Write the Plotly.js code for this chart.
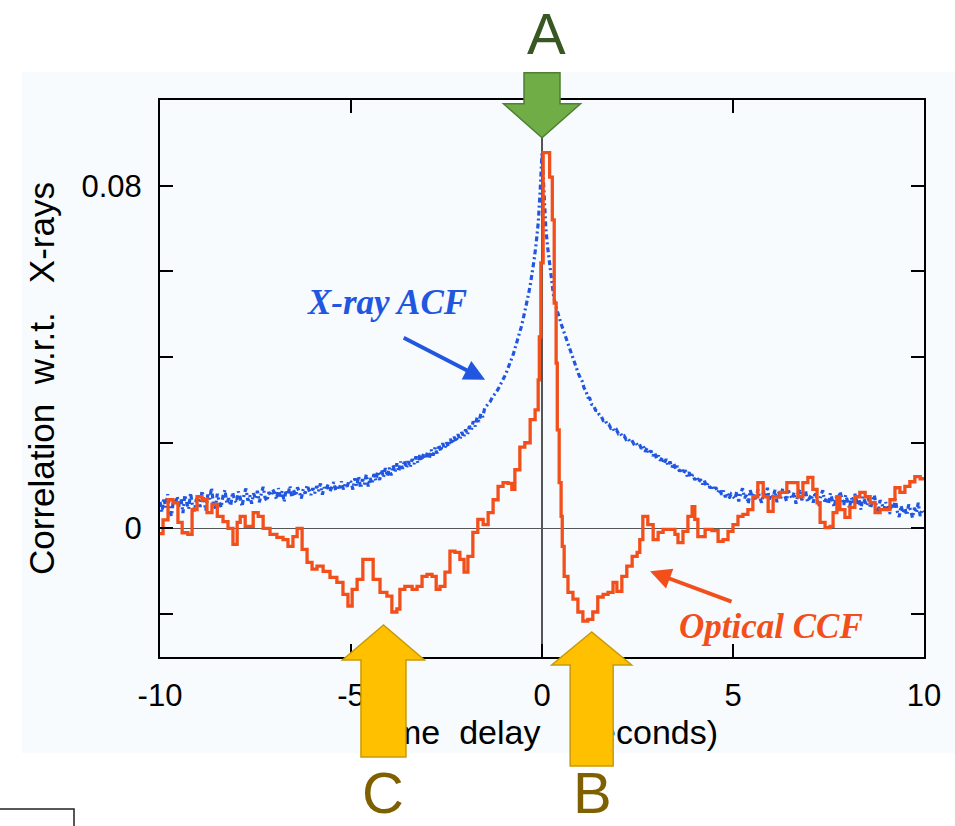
<!DOCTYPE html>
<html>
<head>
<meta charset="utf-8">
<script src="https://cdn.plot.ly/plotly-3.0.1.min.js"></script>
<style>
  html, body { margin: 0; padding: 0; background: #ffffff; }
  #wrap { position: relative; width: 955px; height: 826px; }
  #chart, #marks { position: absolute; left: 0; top: 0; width: 955px; height: 826px; }
  #marks { pointer-events: none; }
</style>
</head>
<body>
<div id="wrap">
  <div id="chart"></div>
  <div id="marks"></div>
</div>
<script>
// X-ray auto-correlation (dotted, blue), lag in seconds
const acfLag = [
  -10.00,-9.95,-9.90,-9.85,-9.80,-9.75,-9.70,-9.65,-9.60,-9.55,
  -9.50,-9.45,-9.40,-9.35,-9.30,-9.25,-9.20,-9.15,-9.10,-9.05,
  -9.00,-8.95,-8.90,-8.85,-8.80,-8.75,-8.70,-8.65,-8.60,-8.55,
  -8.50,-8.45,-8.40,-8.35,-8.30,-8.25,-8.20,-8.15,-8.10,-8.05,
  -8.00,-7.95,-7.90,-7.85,-7.80,-7.75,-7.70,-7.65,-7.60,-7.55,
  -7.50,-7.45,-7.40,-7.35,-7.30,-7.25,-7.20,-7.15,-7.10,-7.05,
  -7.00,-6.95,-6.90,-6.85,-6.80,-6.75,-6.70,-6.65,-6.60,-6.55,
  -6.50,-6.45,-6.40,-6.35,-6.30,-6.25,-6.20,-6.15,-6.10,-6.05,
  -6.00,-5.95,-5.90,-5.85,-5.80,-5.75,-5.70,-5.65,-5.60,-5.55,
  -5.50,-5.45,-5.40,-5.35,-5.30,-5.25,-5.20,-5.15,-5.10,-5.05,
  -5.00,-4.95,-4.90,-4.85,-4.80,-4.75,-4.70,-4.65,-4.60,-4.55,
  -4.50,-4.45,-4.40,-4.35,-4.30,-4.25,-4.20,-4.15,-4.10,-4.05,
  -4.00,-3.95,-3.90,-3.85,-3.80,-3.75,-3.70,-3.65,-3.60,-3.55,
  -3.50,-3.45,-3.40,-3.35,-3.30,-3.25,-3.20,-3.15,-3.10,-3.05,
  -3.00,-2.95,-2.90,-2.85,-2.80,-2.75,-2.70,-2.65,-2.60,-2.55,
  -2.50,-2.45,-2.40,-2.35,-2.30,-2.25,-2.20,-2.15,-2.10,-2.05,
  -2.00,-1.95,-1.90,-1.85,-1.80,-1.75,-1.70,-1.65,-1.60,-1.55,
  -1.50,-1.45,-1.40,-1.35,-1.30,-1.25,-1.20,-1.15,-1.10,-1.05,
  -1.00,-0.95,-0.90,-0.85,-0.80,-0.75,-0.70,-0.65,-0.60,-0.55,
  -0.50,-0.45,-0.40,-0.35,-0.30,-0.25,-0.20,-0.15,-0.10,-0.05,
  0.00,
  0.05,0.10,0.15,0.20,0.25,0.30,0.35,0.40,0.45,0.50,
  0.55,0.60,0.65,0.70,0.75,0.80,0.85,0.90,0.95,1.00,
  1.05,1.10,1.15,1.20,1.25,1.30,1.35,1.40,1.45,1.50,
  1.55,1.60,1.65,1.70,1.75,1.80,1.85,1.90,1.95,2.00,
  2.05,2.10,2.15,2.20,2.25,2.30,2.35,2.40,2.45,2.50,
  2.55,2.60,2.65,2.70,2.75,2.80,2.85,2.90,2.95,3.00,
  3.05,3.10,3.15,3.20,3.25,3.30,3.35,3.40,3.45,3.50,
  3.55,3.60,3.65,3.70,3.75,3.80,3.85,3.90,3.95,4.00,
  4.05,4.10,4.15,4.20,4.25,4.30,4.35,4.40,4.45,4.50,
  4.55,4.60,4.65,4.70,4.75,4.80,4.85,4.90,4.95,5.00,
  5.05,5.10,5.15,5.20,5.25,5.30,5.35,5.40,5.45,5.50,
  5.55,5.60,5.65,5.70,5.75,5.80,5.85,5.90,5.95,6.00,
  6.05,6.10,6.15,6.20,6.25,6.30,6.35,6.40,6.45,6.50,
  6.55,6.60,6.65,6.70,6.75,6.80,6.85,6.90,6.95,7.00,
  7.05,7.10,7.15,7.20,7.25,7.30,7.35,7.40,7.45,7.50,
  7.55,7.60,7.65,7.70,7.75,7.80,7.85,7.90,7.95,8.00,
  8.05,8.10,8.15,8.20,8.25,8.30,8.35,8.40,8.45,8.50,
  8.55,8.60,8.65,8.70,8.75,8.80,8.85,8.90,8.95,9.00,
  9.05,9.10,9.15,9.20,9.25,9.30,9.35,9.40,9.45,9.50,
  9.55,9.60,9.65,9.70,9.75,9.80,9.85,9.90,9.95,10.00
];
const acfValue = [
  0.0062,0.0038,0.0071,0.0049,0.0080,0.0044,0.0029,0.0066,0.0057,0.0075,
  0.0051,0.0069,0.0036,0.0078,0.0060,0.0045,0.0083,0.0054,0.0040,0.0067,
  0.0073,0.0050,0.0088,0.0061,0.0042,0.0079,0.0068,0.0095,0.0056,0.0047,
  0.0081,0.0063,0.0049,0.0076,0.0090,0.0058,0.0071,0.0053,0.0084,0.0067,
  0.0060,0.0086,0.0072,0.0051,0.0079,0.0093,0.0065,0.0077,0.0058,0.0082,
  0.0069,0.0088,0.0061,0.0080,0.0097,0.0072,0.0064,0.0085,0.0076,0.0091,
  0.0083,0.0068,0.0094,0.0075,0.0087,0.0062,0.0090,0.0079,0.0099,0.0073,
  0.0089,0.0076,0.0096,0.0084,0.0070,0.0092,0.0081,0.0101,0.0088,0.0078,
  0.0094,0.0082,0.0099,0.0087,0.0105,0.0079,0.0096,0.0090,0.0103,0.0086,
  0.0097,0.0108,0.0088,0.0101,0.0094,0.0110,0.0091,0.0104,0.0098,0.0112,
  0.0108,0.0091,0.0117,0.0099,0.0122,0.0094,0.0115,0.0103,0.0126,0.0098,
  0.0118,0.0104,0.0127,0.0112,0.0133,0.0113,0.0137,0.0119,0.0141,0.0122,
  0.0142,0.0124,0.0147,0.0131,0.0152,0.0133,0.0156,0.0139,0.0159,0.0141,
  0.0157,0.0143,0.0162,0.0150,0.0168,0.0153,0.0171,0.0158,0.0175,0.0162,
  0.0178,0.0163,0.0184,0.0170,0.0189,0.0175,0.0195,0.0180,0.0199,0.0186,
  0.0201,0.0191,0.0209,0.0197,0.0214,0.0202,0.0220,0.0207,0.0225,0.0213,
  0.0231,0.0219,0.0239,0.0230,0.0250,0.0238,0.0259,0.0249,0.0268,0.0260,
  0.0281,0.0286,0.0292,0.0297,0.0306,0.0311,0.0318,0.0325,0.0334,0.0340,
  0.0351,0.0360,0.0372,0.0382,0.0395,0.0407,0.0421,0.0436,0.0452,0.0468,
  0.0486,0.0505,0.0527,0.0548,0.0572,0.0598,0.0631,0.0668,0.0712,0.0785,
  0.0875,
  0.0790,0.0700,0.0655,0.0618,0.0578,0.0545,0.0522,0.0505,0.0489,0.0478,
  0.0465,0.0452,0.0440,0.0426,0.0410,0.0398,0.0384,0.0372,0.0362,0.0352,
  0.0344,0.0328,0.0321,0.0306,0.0304,0.0290,0.0288,0.0276,0.0275,0.0265,
  0.0262,0.0252,0.0254,0.0243,0.0243,0.0234,0.0236,0.0226,0.0230,0.0221,
  0.0223,0.0214,0.0216,0.0208,0.0211,0.0203,0.0206,0.0198,0.0202,0.0194,
  0.0197,0.0186,0.0192,0.0179,0.0188,0.0174,0.0182,0.0169,0.0177,0.0163,
  0.0170,0.0158,0.0166,0.0151,0.0162,0.0147,0.0156,0.0143,0.0152,0.0138,
  0.0146,0.0133,0.0141,0.0128,0.0136,0.0122,0.0131,0.0119,0.0126,0.0113,
  0.0121,0.0108,0.0115,0.0103,0.0112,0.0098,0.0106,0.0094,0.0101,0.0089,
  0.0096,0.0084,0.0092,0.0079,0.0088,0.0073,0.0083,0.0070,0.0080,0.0075,
  0.0069,0.0086,0.0063,0.0081,0.0094,0.0071,0.0078,0.0058,0.0089,0.0074,
  0.0083,0.0066,0.0091,0.0072,0.0060,0.0087,0.0077,0.0095,0.0068,0.0080,
  0.0074,0.0090,0.0061,0.0085,0.0070,0.0093,0.0078,0.0064,0.0088,0.0076,
  0.0069,0.0084,0.0058,0.0080,0.0091,0.0066,0.0075,0.0087,0.0062,0.0072,
  0.0079,0.0060,0.0085,0.0068,0.0053,0.0077,0.0089,0.0063,0.0071,0.0057,
  0.0082,0.0066,0.0050,0.0074,0.0061,0.0086,0.0069,0.0055,0.0078,0.0063,
  0.0048,0.0072,0.0060,0.0081,0.0056,0.0067,0.0044,0.0075,0.0062,0.0053,
  0.0070,0.0047,0.0064,0.0078,0.0052,0.0038,0.0066,0.0057,0.0043,0.0061,
  0.0049,0.0034,0.0058,0.0045,0.0069,0.0040,0.0027,0.0053,0.0036,0.0047,
  0.0031,0.0056,0.0042,0.0025,0.0048,0.0037,0.0060,0.0029,0.0044,0.0039
];

// Optical cross-correlation with the X-rays (stepped, orange)
const ccfLag = [
  -10.0,-9.92,-9.79,-9.66,-9.53,-9.42,-9.27,-9.16,-9.03,-8.9,
  -8.77,-8.64,-8.5,-8.35,-8.22,-8.09,-7.98,-7.9,-7.77,-7.64,
  -7.56,-7.43,-7.3,-7.12,-6.94,-6.78,-6.65,-6.52,-6.41,-6.28,
  -6.15,-6.02,-5.89,-5.73,-5.55,-5.37,-5.21,-5.08,-4.97,-4.84,
  -4.69,-4.55,-4.42,-4.24,-4.06,-3.93,-3.8,-3.72,-3.59,-3.4,
  -3.27,-3.14,-3.01,-2.88,-2.77,-2.67,-2.54,-2.41,-2.28,-2.15,
  -2.04,-1.94,-1.81,-1.68,-1.54,-1.41,-1.28,-1.15,-1.02,-0.89,
  -0.79,-0.71,-0.58,-0.45,-0.31,-0.18,-0.1,-0.07,-0.03,0.03,
  0.2,0.27,0.32,0.37,0.4,0.45,0.5,0.53,0.58,0.68,
  0.81,0.94,1.07,1.2,1.33,1.46,1.6,1.73,1.86,1.96,
  2.09,2.22,2.36,2.49,2.56,2.64,2.77,2.91,3.04,3.17,
  3.35,3.48,3.56,3.69,3.82,3.93,4.0,4.08,4.27,4.45,
  4.61,4.74,4.87,5.0,5.13,5.26,5.39,5.52,5.65,5.79,
  5.92,6.05,6.23,6.41,6.57,6.7,6.83,6.96,7.09,7.2,
  7.28,7.41,7.54,7.62,7.72,7.8,7.93,8.06,8.19,8.32,
  8.46,8.59,8.72,8.85,8.98,9.11,9.24,9.37,9.5,9.63,
  9.76,9.9,10.0
];
const ccfValue = [
  -0.0012,0.0020,0.0067,0.0060,0.0014,-0.0010,-0.0014,0.0044,0.0074,0.0067,
  0.0037,0.0056,0.0028,0.0016,0.0000,-0.0037,0.0014,0.0028,0.0005,0.0005,
  0.0037,0.0028,0.0000,-0.0014,-0.0021,-0.0026,-0.0042,-0.0019,0.0000,-0.0049,
  -0.0079,-0.0095,-0.0088,-0.0100,-0.0114,-0.0126,-0.0154,-0.0181,-0.0142,-0.0119,
  -0.0072,-0.0072,-0.0119,-0.0149,-0.0158,-0.0195,-0.0188,-0.0142,-0.0135,-0.0142,
  -0.0135,-0.0112,-0.0107,-0.0112,-0.0142,-0.0135,-0.0102,-0.0053,-0.0056,-0.0072,
  -0.0102,-0.0065,-0.0009,0.0021,0.0009,0.0037,0.0067,0.0098,0.0107,0.0105,
  0.0091,0.0137,0.0190,0.0200,0.0254,0.0277,0.0347,0.0447,0.0620,0.0877,
  0.0820,0.0720,0.0526,0.0386,0.0230,0.0107,0.0028,-0.0042,-0.0112,-0.0149,
  -0.0165,-0.0195,-0.0216,-0.0212,-0.0195,-0.0160,-0.0154,-0.0149,-0.0126,-0.0147,
  -0.0112,-0.0088,-0.0065,-0.0056,-0.0026,0.0028,0.0009,-0.0026,-0.0009,-0.0002,
  -0.0002,-0.0014,-0.0033,-0.0007,0.0028,0.0051,0.0021,-0.0019,-0.0002,-0.0005,
  -0.0030,-0.0026,-0.0007,0.0009,0.0028,0.0033,0.0044,0.0074,0.0107,0.0074,
  0.0040,0.0074,0.0084,0.0107,0.0107,0.0074,0.0107,0.0119,0.0091,0.0060,
  0.0014,0.0002,0.0005,0.0037,0.0074,0.0044,0.0026,0.0049,0.0074,0.0084,
  0.0074,0.0060,0.0037,0.0044,0.0044,0.0067,0.0095,0.0084,0.0098,0.0109,
  0.0121,0.0116,0.0116
];

// Axis ticks
const xTickVals = [-10, -5, 0, 5, 10];
const xTickText = ['-10', '-5', '0', '5', '10'];
const yTickVals = [-0.02, 0, 0.02, 0.04, 0.06, 0.08];
const yTickText = ['', '0', '', '', '', '0.08'];

// Panel geometry shared by the chart and the callout overlay
const W = 955, H = 826;
const M = { l: 160, r: 31, t: 100, b: 169 };
const X_RANGE = [-10, 10];
const Y_RANGE = [-0.03, 0.1];

const BLUE = '#2156e0';
const ORANGE = '#f24f1a';
const SANS = '"Liberation Sans", Arial, Helvetica, sans-serif';
const SERIF = '"Liberation Serif", "Times New Roman", serif';
const SP = '\u00a0';

const traces = [
  {
    x: acfLag, y: acfValue, type: 'scatter', mode: 'lines',
    line: { color: BLUE, width: 3.2, dash: '5px,3px,2px,3px' },
    hoverinfo: 'skip'
  },
  {
    x: ccfLag, y: ccfValue, type: 'scatter', mode: 'lines',
    line: { shape: 'hv', color: ORANGE, width: 3.3 },
    hoverinfo: 'skip'
  }
];

const axisCommon = {
  showgrid: false, showline: true, linecolor: '#000', linewidth: 2,
  mirror: 'ticks', ticks: 'inside', ticklen: 13, tickwidth: 2, tickcolor: '#000',
  tickfont: { family: SANS, size: 31, color: '#000' },
  zeroline: true, zerolinecolor: '#555', zerolinewidth: 1.2,
  fixedrange: true
};

const layout = {
  width: W, height: H,
  margin: M,
  paper_bgcolor: '#ffffff',
  plot_bgcolor: '#f7fbfe',
  showlegend: false,
  xaxis: Object.assign({}, axisCommon, {
    range: X_RANGE, tickmode: 'array', tickvals: xTickVals, ticktext: xTickText,
    ticklabelstandoff: 10,
    title: { text: 'Time' + SP + SP + 'delay' + SP + SP + SP + '(seconds)',
             font: { family: SANS, size: 34, color: '#000' }, standoff: 8 }
  }),
  yaxis: Object.assign({}, axisCommon, {
    range: Y_RANGE, tickmode: 'array', tickvals: yTickVals, ticktext: yTickText,
    ticklabelstandoff: 10,
    title: { text: 'Correlation' + SP + SP + 'w.r.t.' + SP + SP + SP + 'X-rays',
             font: { family: SANS, size: 35, color: '#000' }, standoff: 16 }
  }),
  shapes: [
    { type: 'rect', xref: 'paper', yref: 'paper', layer: 'below',
      x0: -0.1806, x1: 1.0406, y0: -0.1724, y1: 1.0503,
      fillcolor: '#f7fbfe', line: { width: 0 } }
  ],
  annotations: [
    { x: -4.06, y: 0.0528, xref: 'x', yref: 'y', showarrow: false,
      text: '<b><i>X-ray ACF</i></b>',
      font: { family: SERIF, size: 35, color: BLUE } },
    { x: -1.49, y: 0.0347, ax: -3.66, ay: 0.0447, xref: 'x', yref: 'y',
      axref: 'x', ayref: 'y', text: '', showarrow: true,
      arrowhead: 2, arrowsize: 1.1, arrowwidth: 3.8, arrowcolor: BLUE },
    { x: 6.0, y: -0.0228, xref: 'x', yref: 'y', showarrow: false,
      text: '<b><i>Optical CCF</i></b>',
      font: { family: SERIF, size: 35, color: ORANGE } },
    { x: 2.83, y: -0.0100, ax: 5.0, ay: -0.0172, xref: 'x', yref: 'y',
      axref: 'x', ayref: 'y', text: '', showarrow: true,
      arrowhead: 2, arrowsize: 1.1, arrowwidth: 3.8, arrowcolor: ORANGE }
  ]
};

Plotly.newPlot('chart', traces, layout, { displayModeBar: false, staticPlot: true });

// ---- Callout overlay: block arrows A, B, C drawn on top of everything ----
const plotW = W - M.l - M.r, plotH = H - M.t - M.b;
const pxX = lag => M.l + (lag - X_RANGE[0]) / (X_RANGE[1] - X_RANGE[0]) * plotW;
const pxY = v => M.t + (Y_RANGE[1] - v) / (Y_RANGE[1] - Y_RANGE[0]) * plotH;

// block arrow path: tip at (tx, ty), pointing down (dir=1) or up (dir=-1)
function blockArrow(tx, ty, dir, headW, headL, shaftW, totalL) {
  const hb = ty - dir * headL;      // head base
  const end = ty - dir * totalL;    // tail end
  return 'M' + tx + ',' + ty +
    ' L' + (tx - headW / 2) + ',' + hb +
    ' L' + (tx - shaftW / 2) + ',' + hb +
    ' L' + (tx - shaftW / 2) + ',' + end +
    ' L' + (tx + shaftW / 2) + ',' + end +
    ' L' + (tx + shaftW / 2) + ',' + hb +
    ' L' + (tx + headW / 2) + ',' + hb + ' Z';
}

const peakValue = Math.max.apply(null, ccfValue);
const troughB = Math.min.apply(null, ccfValue.filter((v, i) => ccfLag[i] > 0 && ccfLag[i] < 2));
const troughC = Math.min.apply(null, ccfValue.filter((v, i) => ccfLag[i] > -5 && ccfLag[i] < -3));

const arrowA = { x: pxX(0), y: pxY(peakValue) - 15 };
const arrowB = { x: pxX(1.3), y: pxY(troughB) + 11 };
const arrowC = { x: pxX(-4.15), y: pxY(troughC) + 13 };

const GREEN = '#70ad47', GREEN_EDGE = '#507e32', GREEN_TEXT = '#385723';
const GOLD = '#ffc000', GOLD_EDGE = '#c99a06', GOLD_TEXT = '#7f6000';

const overlayLayout = {
  width: W, height: H,
  margin: { l: 0, r: 0, t: 0, b: 0 },
  paper_bgcolor: 'rgba(0,0,0,0)',
  plot_bgcolor: 'rgba(0,0,0,0)',
  showlegend: false,
  xaxis: { range: [0, W], visible: false, fixedrange: true },
  yaxis: { range: [H, 0], visible: false, fixedrange: true },
  shapes: [
    { type: 'path', xref: 'x', yref: 'y', layer: 'above',
      path: blockArrow(arrowA.x, arrowA.y, 1, 77, 34, 36, 65),
      fillcolor: GREEN, line: { color: GREEN_EDGE, width: 1.5 } },
    { type: 'path', xref: 'x', yref: 'y', layer: 'above',
      path: blockArrow(arrowC.x, arrowC.y, -1, 82, 35, 45, 132),
      fillcolor: GOLD, line: { color: GOLD_EDGE, width: 1.5 } },
    { type: 'path', xref: 'x', yref: 'y', layer: 'above',
      path: blockArrow(arrowB.x, arrowB.y, -1, 80, 33, 43, 134),
      fillcolor: GOLD, line: { color: GOLD_EDGE, width: 1.5 } },
    { type: 'path', xref: 'x', yref: 'y', layer: 'above',
      path: 'M0,809 L74,809 L74,826',
      line: { color: '#222', width: 1.5 } }
  ],
  annotations: [
    { x: arrowA.x + 4, y: 0, xref: 'x', yref: 'y', yanchor: 'top', showarrow: false,
      text: 'A', borderpad: 0,
      font: { family: SANS, size: 58, color: GREEN_TEXT } },
    { x: arrowC.x, y: H, xref: 'x', yref: 'y', yanchor: 'bottom', showarrow: false,
      text: 'C', borderpad: 0,
      font: { family: SANS, size: 58, color: GOLD_TEXT } },
    { x: arrowB.x + 1, y: H, xref: 'x', yref: 'y', yanchor: 'bottom', showarrow: false,
      text: 'B', borderpad: 0,
      font: { family: SANS, size: 58, color: GOLD_TEXT } }
  ]
};

Plotly.newPlot('marks', [], overlayLayout, { displayModeBar: false, staticPlot: true });
</script>
</body>
</html>
